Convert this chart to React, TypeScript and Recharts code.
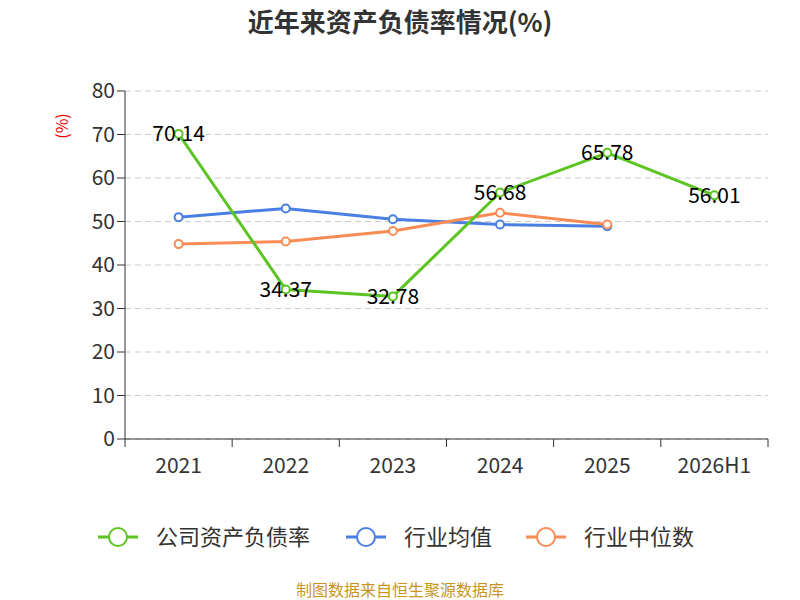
import { LineChart, Line, XAxis, YAxis, CartesianGrid, LabelList } from 'recharts';

const years = ['2021', '2022', '2023', '2024', '2025', '2026H1'];
const companyRatio = [70.14, 34.37, 32.78, 56.68, 65.78, 56.01];
const industryAvg = [51.0, 53.0, 50.5, 49.3, 48.9, null];
const industryMedian = [44.8, 45.4, 47.8, 52.0, 49.3, null];
const yTicks = [0, 10, 20, 30, 40, 50, 60, 70, 80];

const data = years.map((y, i) => ({
  year: y,
  company: companyRatio[i],
  avg: industryAvg[i],
  median: industryMedian[i],
}));

const FONT = '"Noto Sans CJK SC", "Noto Sans", sans-serif';
const GREEN = '#5cc423';
const BLUE = '#4a7fe2';
const ORANGE = '#f98c55';
const HALF = 53.6;

function XTick(props: any) {
  const { x, y, payload, index } = props;
  return (
    <g>
      <line x1={x - HALF} x2={x - HALF} y1={y - 8} y2={y} stroke="#333" />
      {index === years.length - 1 && <line x1={x + HALF} x2={x + HALF} y1={y - 8} y2={y} stroke="#333" />}
      <text x={x} y={y + 26} textAnchor="middle" fontSize={21} fill="#333" fontFamily={FONT}>
        {payload.value}
      </text>
    </g>
  );
}

function LegendItem({ x, color, label }: { x: number; color: string; label: string }) {
  return (
    <g>
      <line x1={x} x2={x + 40} y1={537} y2={537} stroke={color} strokeWidth={3} />
      <circle cx={x + 20} cy={537} r={9} fill="#fff" stroke={color} strokeWidth={2} />
      <text x={x + 58} y={545} fontSize={22} fill="#333" fontFamily={FONT}>{label}</text>
    </g>
  );
}

export default function App() {
  return (
    <div style={{ position: 'absolute', left: 0, top: 0, width: 800, height: 600, background: '#fff', fontFamily: FONT }}>
      <LineChart width={800} height={600} data={data} margin={{ top: 91, right: 32, bottom: 131, left: 65 }}>
        <CartesianGrid vertical={false} stroke="#ccc" strokeDasharray="6 4" />
        <XAxis
          dataKey="year"
          stroke="#333"
          tickLine={false}
          tick={<XTick />}
          height={30}
          interval={0}
          padding={{ left: 53.6, right: 53.6 }}
        />
        <YAxis
          domain={[0, 80]}
          ticks={yTicks}
          width={60}
          stroke="#333"
          tickSize={8}
          tick={{ fontSize: 21, fill: '#333', fontFamily: FONT }}
        />
        <Line dataKey="avg" stroke={BLUE} strokeWidth={3} dot={{ r: 4, fill: '#fff', stroke: BLUE, strokeWidth: 2 }} isAnimationActive={false} />
        <Line dataKey="median" stroke={ORANGE} strokeWidth={3} dot={{ r: 4, fill: '#fff', stroke: ORANGE, strokeWidth: 2 }} isAnimationActive={false} />
        <Line dataKey="company" stroke={GREEN} strokeWidth={3} dot={{ r: 4, fill: '#fff', stroke: GREEN, strokeWidth: 2 }} isAnimationActive={false}>
          <LabelList dataKey="company" position="center" fontSize={21} fill="#000" fontFamily={FONT} />
        </Line>
      </LineChart>
      <svg width={800} height={600} style={{ position: 'absolute', left: 0, top: 0, pointerEvents: 'none' }}>
        <text x={400} y={32} textAnchor="middle" fontSize={26} fontWeight="bold" fill="#333" fontFamily={FONT}>近年来资产负债率情况(%)</text>
        <text x={68} y={126} textAnchor="middle" fontSize={16} fill="#e00" fontFamily={FONT} transform="rotate(-90 68 126)">(%)</text>
        <LegendItem x={98} color={GREEN} label="公司资产负债率" />
        <LegendItem x={346} color={BLUE} label="行业均值" />
        <LegendItem x={526} color={ORANGE} label="行业中位数" />
        <text x={400} y={596} textAnchor="middle" fontSize={16} fill="#c8961e" fontFamily={FONT}>制图数据来自恒生聚源数据库</text>
      </svg>
    </div>
  );
}
